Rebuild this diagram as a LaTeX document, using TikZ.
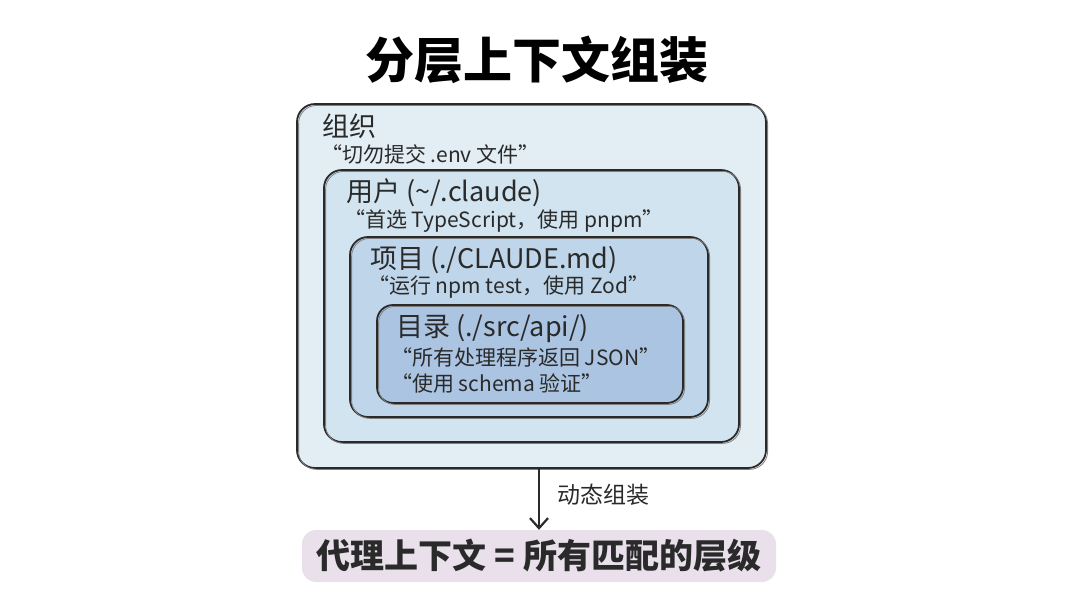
\documentclass[tikz,border=0pt]{standalone}
\usepackage{fontspec}
\setmainfont{Noto Sans CJK SC}
\usetikzlibrary{arrows.meta}
\definecolor{ink}{HTML}{2A2A2A}
\definecolor{washA}{HTML}{E2EEF4}
\definecolor{washB}{HTML}{D2E4EF}
\definecolor{washC}{HTML}{BFD6EA}
\definecolor{washD}{HTML}{AAC4E2}
\definecolor{bandpurple}{HTML}{E9E0EC}
\tikzset{
  layer/.style={draw=ink, line width=1.8pt, rounded corners=18pt, inner sep=0pt,
    postaction={draw=ink!60, line width=0.8pt, rounded corners=18pt,
      transform canvas={shift={(1.6pt,-1.4pt)}}}},
  head/.style={anchor=west, inner sep=0pt, text=ink, font=\fontsize{27}{30}\selectfont},
  rule/.style={anchor=west, inner sep=0pt, text=ink, font=\fontsize{21}{24}\selectfont},
  flow/.style={draw=ink, line width=2.2pt, -{Straight Barb[length=10pt,width=18pt]}}
}
\begin{document}
\begin{tikzpicture}[x=1pt,y=-1pt]
    \useasboundingbox (0,0) rectangle (1080,603);
    \node (title) at (537,60) {\fontsize{49}{54}\selectfont\bfseries 分层上下文组装};
    \node[layer, fill=washA, minimum width=469pt, minimum height=364pt] (org) at (531.5,286) {};
    \node[layer, fill=washB, minimum width=415pt, minimum height=272pt] (user) at (531.5,306) {};
    \node[layer, fill=washC, minimum width=358pt, minimum height=180pt] (proj) at (529,327) {};
    \node[layer, fill=washD, minimum width=306pt, minimum height=98pt, rounded corners=16pt] (dir) at (530,354) {};
    \node[head] (orgname) at (322,126) {组织};
    \node[rule] (orgrule) at (321,154) {“切勿提交 .env 文件”};
    \node[head] (username) at (346,193) {用户 (\textasciitilde/.claude)};
    \node[rule] (userrule) at (344,221) {“首选 TypeScript，使用 pnpm”};
    \node[head] (projname) at (370,260) {项目 (./CLAUDE.md)};
    \node[rule] (projrule) at (368,287) {“运行 npm test，使用 Zod”};
    \node[head] (dirname) at (396,329) {目录 (./src/api/)};
    \node[rule] (dirrule) at (391,357) {“所有处理程序返回 JSON”};
    \node[rule] (dirschema) at (391,383) {“使用 schema 验证”};
    \node[fill=bandpurple, rounded corners=14pt, minimum width=474pt, minimum height=52pt, text=ink,
      font=\fontsize{34}{38}\selectfont\bfseries] (result) at (539,556) {代理上下文 = 所有匹配的层级};
    \draw[flow] (org.south -| result.north) -- (result.north);
    \node[rule, font=\fontsize{23}{26}\selectfont] (assemble) at (557,495) {动态组装};
\end{tikzpicture}
\end{document}
